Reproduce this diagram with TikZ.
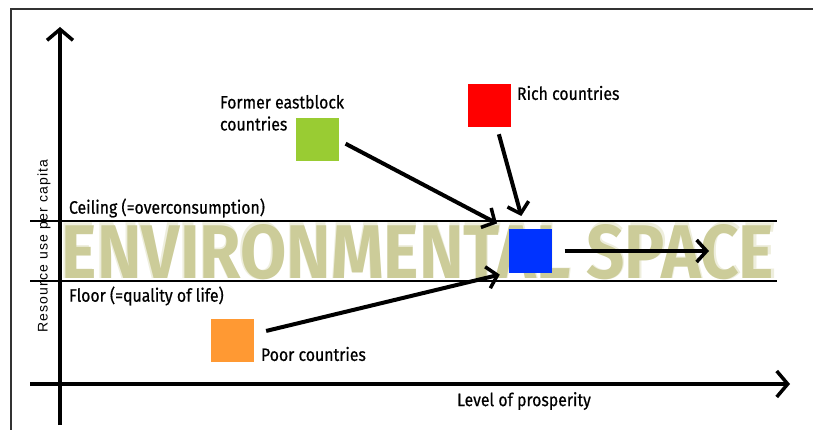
\documentclass[tikz,border=0pt]{standalone}
\usepackage{fontspec}
\setmainfont{Fira Sans}
\newfontfamily\condfont[FakeStretch=0.88,FakeBold=0.6]{Fira Sans}
\newfontfamily\axisfont[LetterSpace=8]{Liberation Sans}
\usepackage{graphicx}
\usepackage{xcolor}
\usetikzlibrary{arrows.meta}
\definecolor{eastgreen}{HTML}{99CC33}
\definecolor{richred}{HTML}{FF0000}
\definecolor{envblue}{HTML}{0033FF}
\definecolor{poororange}{HTML}{FF9933}
\definecolor{khaki}{HTML}{CCCC99}
\definecolor{halo}{HTML}{EEEEDD}
\newcommand{\envword}[2]{\resizebox{#1}{#2}{\bfseries ENVIRONMENTAL SPACE}}

\begin{document}
\begin{tikzpicture}[x=1pt,y=-1pt,
  every node/.style={inner sep=0pt,outer sep=0pt},
  cbox/.style={minimum size=43pt},
  lbl/.style={font=\condfont\fontsize{18}{22}\selectfont,align=left},
  bigarr/.style={line width=4pt,-{Straight Barb[length=10pt,width=22pt,line width=3.5pt]}}]
\useasboundingbox (0,0) rectangle (813,430);
% frame
\draw[line width=2pt,black!80] (11,430) -- (11,9) -- (813,9);
% environmental space band
\node (envtxt) at (418,251) {\makebox[0pt]{\color{halo}\envword{717pt}{57pt}}\makebox[0pt]{\color{khaki}\envword{712pt}{54pt}}};
\draw[line width=2pt] (30,221) -- (777,221);%
\draw[line width=2pt] (30,281) -- (777,281);%
% axes
\coordinate (ybot) at (60,425);
\coordinate (ytop) at (60,27);
\coordinate (xleft) at (30,384);
\coordinate (xright) at (790,384);
\draw[line width=4pt,-{Straight Barb[length=11pt,width=26pt,line width=3.5pt]}] (ybot) -- (ytop);
\draw[line width=4pt,-{Straight Barb[length=11pt,width=26pt,line width=3.5pt]}] (xleft) -- (xright);
\node[font=\axisfont\fontsize{14}{15}\selectfont,rotate=90] (ylbl) at (44,246) {Resource use per capita};
\node[lbl] (xlbl) at (524,401) {Level of prosperity};
\node[lbl,anchor=west] (ceil) at (69,208) {Ceiling (=overconsumption)};
\node[lbl,anchor=west] (floor) at (69,296) {Floor (=quality of life)};
% country boxes
\node[cbox,fill=eastgreen] (east) at (317,140) {};
\node[cbox,fill=richred] (rich) at (489,106) {};
\node[cbox,fill=envblue] (env) at (530,251) {};
\node[cbox,fill=poororange] (poor) at (232,340) {};
\node[lbl,anchor=north west] (eastlbl) at (220,95) {Former eastblock\\countries};
\node[lbl,anchor=west] (richlbl) at (517,93) {Rich countries};
\node[lbl,anchor=west] (poorlbl) at (261,354) {Poor countries};
% arrows
\coordinate (future) at (709,251);
\draw[bigarr,shorten <=8pt,shorten >=13pt] (east.east) -- (env.north west);
\draw[bigarr,shorten <=7pt,shorten >=14pt] ([xshift=8pt]rich.south) -- ([xshift=-5pt]env.north);
\draw[bigarr,shorten <=13pt,shorten >=9pt] ([yshift=6pt]poor.east) -- (env.south west);
\draw[bigarr,shorten <=13pt] (env.east) -- (future);
\end{tikzpicture}
\end{document}
